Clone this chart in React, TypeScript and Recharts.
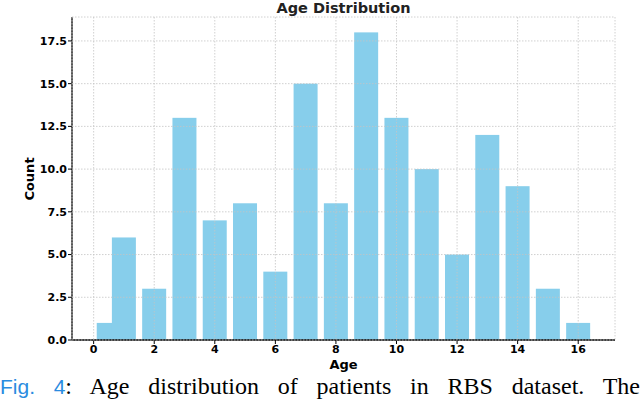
import { BarChart, Bar, XAxis, YAxis, CartesianGrid, Label } from "recharts";

// ages on the x axis (the first bar sits half way between 0 and 1)
const ages = [0.5, 1, 2, 3, 4, 5, 6, 7, 8, 9, 10, 11, 12, 13, 14, 15, 16];
const counts = [1, 6, 3, 13, 7, 8, 4, 15, 8, 18, 13, 10, 5, 12, 9, 3, 1];
const xTicks = [0, 2, 4, 6, 8, 10, 12, 14, 16];
const yTicks = [0, 2.5, 5, 7.5, 10, 12.5, 15, 17.5];

const data = ages.map((age, i) => ({ age, count: counts[i] }));

const BAR_W = 24;
const tickStyle = { fill: "#000", fontSize: 11, fontWeight: "bold", fontFamily: "DejaVu Sans" };

// bars keep a fixed width, centred on the spot the x scale gives them
function WideBar(props: any) {
  const { x, y, width, height, fill } = props;
  if (!height) return null;
  const cx = x + width / 2;
  return <rect x={cx - BAR_W / 2} y={y} width={BAR_W} height={height} fill={fill} />;
}

export default function App() {
  return (
    <div style={{ position: "absolute", left: 0, top: 0, width: 640, height: 399, overflow: "hidden", background: "#fff" }}>
      <div
        style={{
          position: "absolute", left: 72, top: 1, width: 543, textAlign: "center",
          fontFamily: "DejaVu Sans", fontWeight: "bold", fontSize: 14.5, lineHeight: 1, color: "#222",
        }}
      >
        Age Distribution
      </div>
      <div
        style={{
          position: "absolute", left: 29, top: 178.7, transform: "translate(-50%, -50%) rotate(-90deg)",
          fontFamily: "DejaVu Sans", fontWeight: "bold", fontSize: 13, lineHeight: 1, color: "#000", whiteSpace: "nowrap",
        }}
      >
        Count
      </div>
      <BarChart width={640} height={380} data={data} margin={{ top: 17, right: 25, bottom: 0, left: 0 }}>
        <XAxis
          dataKey="age"
          type="number"
          domain={[-0.715, 17.215]}
          ticks={xTicks}
          interval={0}
          allowDataOverflow
          height={40}
          tickSize={4}
          tickMargin={1}
          axisLine={{ stroke: "#000", strokeWidth: 1.3 }}
          tickLine={{ stroke: "#000" }}
          tick={tickStyle}
        >
          <Label
            value="Age"
            position="insideBottom"
            offset={11}
            style={{ fill: "#000", fontSize: 13, fontWeight: "bold", fontFamily: "DejaVu Sans" }}
          />
        </XAxis>
        <YAxis
          type="number"
          domain={[0, 18.9]}
          ticks={yTicks}
          interval={0}
          allowDataOverflow
          width={72}
          tickSize={4}
          tickMargin={1}
          tickFormatter={(v: number) => v.toFixed(1)}
          axisLine={{ stroke: "#000", strokeWidth: 1.3 }}
          tickLine={{ stroke: "#000" }}
          tick={tickStyle}
        />
        <Bar dataKey="count" fill="#87ceeb" shape={WideBar} isAnimationActive={false} />
        <CartesianGrid stroke="#c4c4c4" strokeDasharray="1.5 1.5" strokeWidth={0.8} zIndex={500} />
      </BarChart>
      <div
        style={{
          position: "absolute", left: 0, top: 374, width: 640, lineHeight: "24px",
          fontFamily: "Liberation Serif", fontSize: 24, color: "#000",
          textAlign: "justify", textAlignLast: "justify", whiteSpace: "nowrap",
        }}
      >
        <span style={{ fontFamily: "Liberation Sans", fontSize: 21, color: "#2a8ce0" }}>Fig. 4</span>: Age distribution of
        patients in RBS dataset. The
      </div>
    </div>
  );
}
